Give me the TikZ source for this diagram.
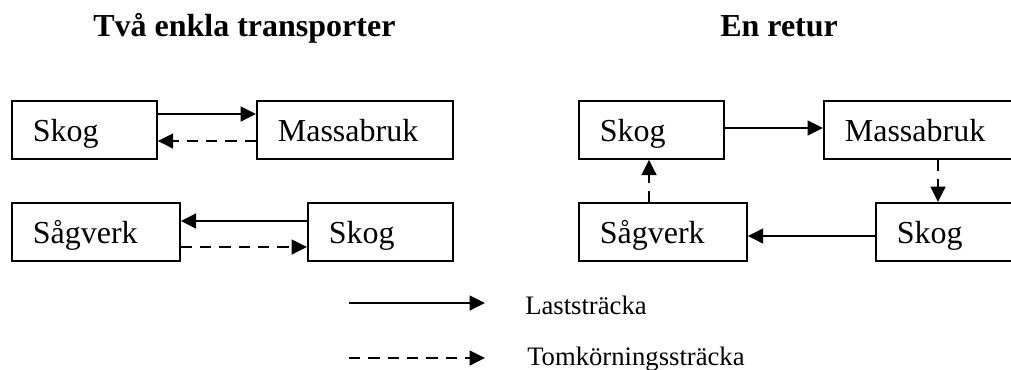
\documentclass[tikz,border=0pt]{standalone}
\usepackage{fontspec}
\setmainfont{Liberation Serif}
\usetikzlibrary{arrows.meta,calc}

\tikzset{
  box/.style={draw, line width=1.3pt, rectangle, anchor=north west,
    inner xsep=15.75pt, inner ysep=0pt, align=left,
    text height=30.75pt, text depth=12.75pt, minimum height=43.5pt,
    font=\fontsize{24}{28}\selectfont},
  wskog/.style={text width=77.25pt},
  wmassa/.style={text width=115.5pt},
  wsag/.style={text width=94.5pt},
  load/.style={line width=1.8pt, -{Triangle[length=11.5pt,width=11pt]}},
  empty/.style={load, dash pattern=on 8.5pt off 6pt},
  title/.style={anchor=base west, inner sep=0pt, font=\fontsize{24}{28}\selectfont\bfseries},
  legend/.style={anchor=base west, inner sep=0pt, font=\fontsize{20}{24}\selectfont}
}

\begin{document}
\begin{tikzpicture}[x=0.75pt, y=-0.75pt]
\useasboundingbox (0,0) rectangle (1011,369);
\clip (0,0) rectangle (1011,369);

% headings
\node[title] (t1) at (93,36) {Två enkla transporter};
\node[title] (t2) at (720,36) {En retur};

% two single transports
\node[box, wskog]  (lskog)  at (11,100)  {Skog};
\node[box, wmassa] (lmassa) at (256,100) {Massabruk};
\node[box, wsag]   (lsag)   at (11,202)  {Sågverk};
\node[box, wskog]  (lskog2) at (307,202) {Skog};

\draw[load]  ($(lskog.north east)+(0,14)$) -- ($(lmassa.north west)+(0,14)$);
\draw[empty] ($(lmassa.north west)+(0,41)$) -- ($(lskog.north east)+(0,41)$);
\draw[load]  ($(lskog2.north west)+(0,19)$) -- ($(lsag.north east)+(0,19)$);
\draw[empty] ($(lsag.north east)+(0,45)$) -- ($(lskog2.north west)+(0,45)$);

% one round trip
\node[box, wskog]  (rskog)  at (578,100) {Skog};
\node[box, wmassa] (rmassa) at (823,100) {Massabruk};
\node[box, wsag]   (rsag)   at (578,202) {Sågverk};
\node[box, wskog]  (rskog2) at (875,202) {Skog};

\draw[load]  ($(rskog.north east)+(0,28)$) -- ($(rmassa.north west)+(0,28)$);
\draw[empty] ($(rmassa.south west)+(115,0)$) -- ($(rskog2.north west)+(63,0)$);
\draw[load]  ($(rskog2.north west)+(0,34)$) -- ($(rsag.north east)+(0,34)$);
\draw[empty] ($(rsag.north west)+(71,0)$) -- ($(rskog.south west)+(71,0)$);

% legend
\coordinate (la) at (349,303);
\coordinate (lb) at (485,303);
\coordinate (ea) at (349,358);
\coordinate (eb) at (485,358);
\draw[load]  (la) -- (lb);
\draw[empty] (ea) -- (eb);
\node[legend] (lt) at (525,314) {Laststräcka};
\node[legend] (et) at (527,365) {Tomkörningssträcka};
\end{tikzpicture}
\end{document}
